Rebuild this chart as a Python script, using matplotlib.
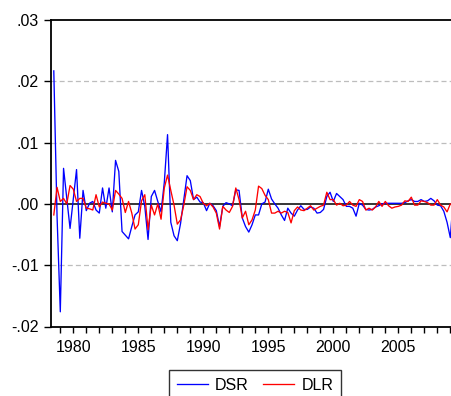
import matplotlib
matplotlib.use("Agg")
import matplotlib.pyplot as plt
import numpy as np

plt.rcParams['font.family'] = ['Liberation Sans', 'DejaVu Sans']

# Quarterly data, first observation 1978Q3
start_year = 1978.5
dsr = [0.0217, -0.0020, -0.0176, 0.0058, 0.0009, -0.0040, 0.0008, 0.0056, -0.0056, 0.0022,
       -0.0011, 0.0001, 0.0004, -0.0010, -0.0015, 0.0026, -0.0007, 0.0026, -0.0013, 0.0071,
       0.0053, -0.0045, -0.0051, -0.0057, -0.0037, -0.0018, -0.0013, 0.0022, -0.0004, -0.0058,
       0.0012, 0.0022, 0.0004, -0.0013, 0.0035, 0.0113, -0.0030, -0.0052, -0.0060, -0.0032,
       0.0007, 0.0046, 0.0038, 0.0007, 0.0011, 0.0003, 0.0002, -0.0011, 0.0001, -0.0003,
       -0.0011, -0.0037, -0.0004, 0.0002, 0.0000, -0.0003, 0.0023, 0.0022, -0.0023, -0.0037,
       -0.0046, -0.0034, -0.0018, -0.0018, 0.0000, 0.0003, 0.0024, 0.0008, 0.0000, -0.0007,
       -0.0018, -0.0027, -0.0007, -0.0015, -0.0020, -0.0010, -0.0003, -0.0009, -0.0009, -0.0005,
       -0.0007, -0.0015, -0.0014, -0.0009, 0.0012, 0.0019, 0.0004, 0.0017, 0.0012, 0.0007,
       -0.0004, -0.0004, -0.0007, -0.0020, 0.0001, -0.0002, -0.0009, -0.0010, -0.0009, -0.0005,
       -0.0003, 0.0000, 0.0001, 0.0001, 0.0001, 0.0001, 0.0001, 0.0001, 0.0002, 0.0005,
       0.0007, 0.0004, 0.0004, 0.0007, 0.0004, 0.0005, 0.0009, 0.0005, -0.0002, -0.0003,
       -0.0012, -0.0030, -0.0055, 0.0015]
dlr = [-0.0018, 0.0027, 0.0004, 0.0009, 0.0000, 0.0030, 0.0024, 0.0004, 0.0009, 0.0009,
       -0.0007, -0.0008, -0.0010, 0.0015, -0.0005, 0.0003, 0.0001, 0.0000, -0.0010, 0.0022,
       0.0016, 0.0009, -0.0014, 0.0004, -0.0015, -0.0041, -0.0034, 0.0005, 0.0015, -0.0042,
       -0.0002, -0.0018, 0.0000, -0.0025, 0.0026, 0.0047, 0.0022, -0.0002, -0.0033, -0.0026,
       -0.0002, 0.0028, 0.0022, 0.0007, 0.0015, 0.0012, 0.0001, -0.0003, 0.0001, -0.0005,
       -0.0015, -0.0041, -0.0004, -0.0010, -0.0014, -0.0004, 0.0026, 0.0007, -0.0023, -0.0012,
       -0.0034, -0.0026, -0.0010, 0.0029, 0.0025, 0.0014, 0.0007, -0.0015, -0.0015, -0.0012,
       -0.0015, -0.0012, -0.0014, -0.0031, -0.0011, -0.0005, -0.0010, -0.0011, -0.0007, -0.0003,
       -0.0010, -0.0007, -0.0004, -0.0002, 0.0019, 0.0007, 0.0007, -0.0002, 0.0001, -0.0003,
       -0.0002, 0.0004, -0.0002, -0.0004, 0.0007, 0.0004, -0.0010, -0.0007, -0.0010, -0.0005,
       0.0004, -0.0004, 0.0004, -0.0003, -0.0007, -0.0005, -0.0004, -0.0002, 0.0005, 0.0004,
       0.0011, -0.0002, -0.0002, 0.0005, 0.0004, 0.0002, -0.0002, -0.0002, 0.0007, -0.0002,
       -0.0005, -0.0013, 0.0000, 0.0000]
series_names = ['DSR', 'DLR']
ytick_vals = [-0.02, -0.01, 0.00, 0.01, 0.02, 0.03]
ytick_labels = ['-.02', '-.01', '.00', '.01', '.02', '.03']
xtick_label_years = [1980, 1985, 1990, 1995, 2000, 2005]

years = start_year + 0.25 * np.arange(len(dsr))

W, H = 452, 396
fig = plt.figure(figsize=(W / 100, H / 100), dpi=100)
ax = fig.add_axes([51 / W, (H - 326.5) / H, (W - 51) / W, (326.5 - 20) / H])

# grid
for v in [0.01, 0.02, -0.01]:
    ax.axhline(v, color='#bdbdbd', lw=0.9, dashes=(4, 2.5), zorder=1)
ax.axhline(0, color='black', lw=1.1, zorder=2)

l1, = ax.plot(years, dsr, color='#0000ff', lw=0.95, zorder=3, label=series_names[0])
l2, = ax.plot(years, dlr, color='#ff0000', lw=0.95, zorder=4, label=series_names[1])

ax.set_xlim(1978.285, 2009.13)
ax.set_ylim(-0.02, 0.03)

ax.set_yticks(ytick_vals)
ax.set_yticklabels(ytick_labels)
ax.set_xticks(np.arange(1979, 2010))
ax.set_xticklabels([str(y) if y in xtick_label_years else '' for y in range(1979, 2010)])

ax.tick_params(axis='both', direction='out', labelsize=11.5, colors='black', width=1.0)
ax.tick_params(axis='x', length=4, pad=6)
ax.tick_params(axis='y', length=5, pad=4)

for s in ['left', 'bottom', 'top']:
    ax.spines[s].set_linewidth(1.3)
    ax.spines[s].set_color('black')
ax.spines['right'].set_visible(False)

leg = fig.legend(handles=[l1, l2], loc='upper center',
                 bbox_to_anchor=(255 / W, 1 - 370 / H), ncol=2,
                 fontsize=11.5, frameon=True, fancybox=False, shadow=False,
                 handlelength=1.95, handletextpad=0.45, columnspacing=0.9,
                 borderpad=0.5, borderaxespad=0)
leg.get_frame().set_edgecolor('black')
leg.get_frame().set_linewidth(1.0)

fig.savefig('out.png', dpi=100)
